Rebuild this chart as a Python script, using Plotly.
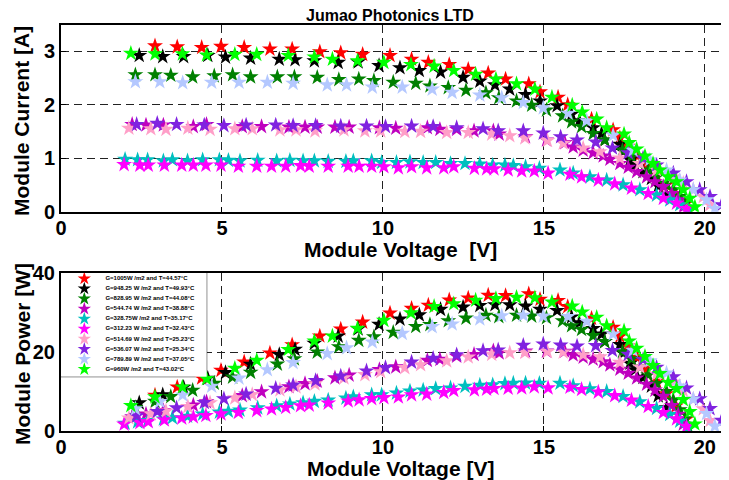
import plotly.graph_objects as go

title_text = "Jumao Photonics LTD"
x_title_top = "Module Voltage  [V]"
x_title_bottom = "Module Voltage [V]"
y_title_top = "Module Current [A]"
y_title_bottom = "Module Power [W]"

series_names = [
    "G=1005W /m2 and T=44.57°C",
    "G=948.25 W /m2 and T=49.93°C",
    "G=828.95 W /m2 and T=44.08°C",
    "G=544.74 W /m2 and T=38.88°C",
    "G=328.75W /m2 and T=35.17°C",
    "G=312.23 W /m2 and T=32.43°C",
    "G=514.69 W /m2 and T=25.23°C",
    "G=536.07 W /m2 and T=25.34°C",
    "G=789.89 W /m2 and T=37.05°C",
    "G=960W /m2 and T=43.02°C",
]
series_colors = ["#ff0000", "#000000", "#008000", "#bf00bf", "#00bfbf",
                 "#ff00ff", "#ff9fc8", "#8022e0", "#b4c8ff", "#00ff00"]

# 1005 W/m2
v_1005 = [2.92, 3.61, 4.37, 4.97, 5.69, 6.49, 7.18, 8.04, 8.69, 9.37, 10.22, 10.89, 11.41, 12.06, 12.65, 13.27, 13.81,
          14.53, 14.88, 15.44, 15.74, 16.48, 17.15, 17.36, 17.6, 17.9, 18.2, 18.5, 18.8, 19.1, 19.4]
i_1005 = [3.10, 3.08, 3.07, 3.09, 3.07, 3.04, 3.04, 2.99, 2.97, 2.94, 2.92, 2.85, 2.79, 2.75, 2.66, 2.59, 2.48,
          2.39, 2.24, 2.14, 2.00, 1.73, 1.53, 1.38, 1.22, 1.04, 0.86, 0.68, 0.50, 0.33, 0.15]
# 948.25 W/m2
v_948 = [2.43, 3.16, 3.81, 4.56, 5.11, 5.89, 6.78, 7.27, 7.87, 8.61, 9.23, 9.88, 10.53, 11.13, 11.79, 12.49, 13.01,
         13.48, 13.94, 14.43, 14.88, 15.41, 15.86, 16.10, 16.53, 16.79, 16.89, 17.36, 17.46, 17.67, 17.83, 18.08,
         18.34, 18.55, 18.81]
i_948 = [2.92, 2.90, 2.90, 2.92, 2.89, 2.87, 2.85, 2.84, 2.82, 2.79, 2.80, 2.73, 2.69, 2.64, 2.61, 2.51, 2.44,
         2.37, 2.29, 2.19, 2.07, 1.98, 1.82, 1.70, 1.57, 1.46, 1.34, 1.26, 1.13, 0.97, 0.87, 0.75,
         0.62, 0.48, 0.31]
# 828.95 W/m2
v_828 = [2.31, 2.92, 3.41, 4.09, 4.76, 5.33, 5.89, 6.72, 7.25, 7.96, 8.63, 9.25, 9.72, 10.32, 11.02, 11.46, 12.03,
         12.58, 13.20, 13.60, 14.15, 14.62, 15.08, 15.58, 15.86, 16.17, 16.53, 16.89, 17.44, 17.72, 17.98, 18.24,
         18.50, 18.81, 19.02, 19.22, 19.38, 19.48]
i_828 = [2.56, 2.56, 2.55, 2.52, 2.54, 2.56, 2.52, 2.52, 2.52, 2.51, 2.47, 2.48, 2.45, 2.42, 2.40, 2.35, 2.32,
         2.27, 2.22, 2.13, 2.07, 1.99, 1.90, 1.79, 1.68, 1.59, 1.46, 1.34, 1.15, 1.03, 0.90, 0.78,
         0.65, 0.53, 0.41, 0.28, 0.16, 0.06]
# 544.74 W/m2
v_544 = [2.21, 2.64, 3.18, 4.11, 4.52, 5.63, 6.23, 7.08, 7.58, 7.96, 8.51, 8.95, 9.89, 10.40, 11.38, 11.77, 12.29,
         12.83, 13.43, 13.61, 14.43, 15.08, 15.65, 15.91, 16.22, 16.53, 16.84, 17.05, 17.36, 17.62, 17.88, 18.19,
         18.45, 18.71, 18.97, 19.17, 19.33]
i_544 = [1.63, 1.62, 1.62, 1.59, 1.63, 1.59, 1.59, 1.58, 1.58, 1.58, 1.58, 1.58, 1.57, 1.56, 1.57, 1.54, 1.54,
         1.51, 1.51, 1.45, 1.40, 1.34, 1.29, 1.21, 1.15, 1.10, 1.04, 0.98, 0.90, 0.83, 0.75, 0.65,
         0.56, 0.47, 0.34, 0.22, 0.09]
# 328.75 W/m2
v_328 = [1.99, 2.38, 2.69, 3.18, 3.46, 3.93, 4.40, 4.92, 5.20, 5.56, 6.11, 6.70, 7.11, 7.52, 7.87, 8.30, 8.85,
         9.08, 9.65, 9.96, 10.42, 10.84, 11.25, 11.64, 12.10, 12.55, 13.01, 13.41, 13.79, 14.05, 14.43, 14.86,
         15.50, 15.91, 16.43, 16.95, 17.46, 17.98, 18.50, 18.91, 19.22, 19.48]
i_328 = [0.98, 0.97, 0.97, 0.95, 0.97, 0.95, 0.97, 0.97, 0.96, 0.95, 0.96, 0.95, 0.96, 0.95, 0.95, 0.94, 0.94,
         0.95, 0.95, 0.92, 0.92, 0.93, 0.92, 0.92, 0.90, 0.90, 0.89, 0.87, 0.87, 0.86, 0.84, 0.81,
         0.78, 0.72, 0.65, 0.59, 0.50, 0.41, 0.31, 0.22, 0.13, 0.03]
# 312.23 W/m2
v_312 = [1.96, 2.45, 2.71, 3.21, 3.75, 4.11, 4.50, 4.97, 5.51, 6.08, 6.54, 6.98, 7.44, 7.71, 8.30, 8.92, 9.26,
         9.65, 10.03, 10.48, 10.89, 11.36, 11.89, 12.20, 12.84, 13.22, 13.45, 13.89, 14.31, 14.70, 15.13, 15.81,
         16.17, 16.69, 17.20, 17.72, 18.24, 18.71, 19.12, 19.43]
i_312 = [0.88, 0.87, 0.87, 0.87, 0.87, 0.87, 0.87, 0.87, 0.85, 0.85, 0.85, 0.85, 0.86, 0.85, 0.85, 0.85, 0.85,
         0.85, 0.84, 0.82, 0.84, 0.82, 0.82, 0.84, 0.81, 0.80, 0.80, 0.78, 0.76, 0.76, 0.72, 0.70,
         0.65, 0.59, 0.52, 0.44, 0.34, 0.25, 0.16, 0.06]
# 514.69 W/m2
v_514 = [2.11, 2.79, 3.26, 3.94, 4.63, 5.40, 5.94, 6.80, 7.30, 7.89, 8.79, 9.44, 9.93, 10.68, 11.17, 11.98, 12.65,
         13.38, 13.94, 14.41, 15.11, 15.60, 16.22, 16.74, 17.36, 17.98, 18.50, 19.02, 19.33, 19.64, 19.95, 20.16]
i_514 = [1.56, 1.55, 1.54, 1.56, 1.54, 1.55, 1.55, 1.53, 1.53, 1.51, 1.53, 1.51, 1.51, 1.50, 1.50, 1.48, 1.48,
         1.45, 1.42, 1.38, 1.33, 1.28, 1.19, 1.12, 1.00, 0.90, 0.78, 0.65, 0.53, 0.41, 0.28, 0.13]
# 536.07 W/m2
v_536 = [2.35, 2.99, 3.59, 4.45, 5.06, 5.75, 6.67, 7.21, 7.91, 8.69, 9.49, 10.08, 10.89, 11.56, 12.29, 13.11, 13.58,
         14.36, 14.98, 15.52, 16.03, 16.61, 17.13, 17.62, 18.08, 18.50, 19.02, 19.43, 19.84, 20.16, 20.52, 20.71]
i_536 = [1.63, 1.65, 1.63, 1.62, 1.61, 1.62, 1.62, 1.61, 1.61, 1.60, 1.60, 1.59, 1.60, 1.59, 1.57, 1.55, 1.51,
         1.51, 1.47, 1.40, 1.34, 1.30, 1.19, 1.10, 1.00, 0.87, 0.72, 0.56, 0.41, 0.28, 0.13, 0.04]
# 789.89 W/m2
v_789 = [2.31, 3.07, 3.78, 4.68, 5.53, 6.41, 7.21, 8.27, 8.87, 9.67, 10.60, 11.53, 12.15, 13.01, 13.69, 14.36, 14.98,
         15.75, 16.33, 17.15, 17.77, 18.29, 18.81, 19.22, 19.64, 20.05, 20.31]
i_789 = [2.43, 2.43, 2.41, 2.42, 2.42, 2.42, 2.40, 2.37, 2.37, 2.33, 2.33, 2.29, 2.23, 2.18, 2.13, 2.04, 1.94,
         1.84, 1.70, 1.43, 1.15, 0.97, 0.78, 0.59, 0.41, 0.22, 0.06]
# 960 W/m2
v_960 = [2.17, 2.92, 3.77, 4.52, 5.40, 6.08, 7.06, 7.87, 8.43, 9.21, 10.03, 10.87, 11.59, 12.20, 12.88, 13.51, 14.15,
         14.72, 15.25, 15.88, 16.19, 16.64, 16.95, 17.49, 17.65, 17.88, 18.14, 18.39, 18.60, 18.86, 19.12, 19.33,
         19.53, 19.69]
i_960 = [2.96, 2.95, 2.95, 2.93, 2.94, 2.94, 2.92, 2.89, 2.85, 2.82, 2.79, 2.75, 2.72, 2.64, 2.57, 2.48, 2.39,
         2.29, 2.14, 1.99, 1.86, 1.73, 1.57, 1.45, 1.29, 1.17, 1.04, 0.90, 0.78, 0.65, 0.56, 0.41,
         0.25, 0.09]

voltages = [v_1005, v_948, v_828, v_544, v_328, v_312, v_514, v_536, v_789, v_960]
currents = [i_1005, i_948, i_828, i_544, i_328, i_312, i_514, i_536, i_789, i_960]

x_ticks = [0, 5, 10, 15, 20]
y_ticks_top = [0, 1, 2, 3]
y_ticks_bottom = [0, 20, 40]

FONT = "Liberation Sans, Arial, sans-serif"
STAR = 12

# ---- layout geometry (screen pixels; the page body adds an 8px offset) ----
W, H, OFF = 729, 480, 8
PL, PR = 61, 729                 # plot area left / right on screen
TOP1, BOT1 = 24.5, 211.7         # upper axes top / bottom on screen
TOP2, BOT2 = 273.0, 431.0        # lower axes
LEG_R, LEG_B = 206.7, 376.7      # legend box right / bottom


def py(sy):
    """screen y -> paper fraction"""
    return 1 - (sy - OFF) / H


def px(sx):
    """screen x -> paper fraction (paper spans plot area)"""
    return (sx - PL) / (PR - PL)


fig = go.Figure()
for name, col, v, i in zip(series_names, series_colors, voltages, currents):
    p = [vv * ii for vv, ii in zip(v, i)]
    fig.add_trace(go.Scatter(x=v, y=i, mode="markers", name=name, showlegend=False,
                             marker=dict(symbol="star", size=STAR, color=col, line=dict(width=0)),
                             xaxis="x", yaxis="y"))
    fig.add_trace(go.Scatter(x=v, y=p, mode="markers", name=name, showlegend=False,
                             marker=dict(symbol="star", size=STAR, color=col, line=dict(width=0)),
                             xaxis="x2", yaxis="y2"))

# custom legend drawn on its own small axes
idx = list(range(len(series_names)))
fig.add_trace(go.Scatter(x=[0.16] * len(idx), y=idx, mode="markers", showlegend=False, hoverinfo="skip",
                         marker=dict(symbol="star", size=10, color=series_colors, line=dict(width=0)),
                         xaxis="x3", yaxis="y3"))
fig.add_trace(go.Scatter(x=[0.305] * len(idx), y=idx, mode="text", text=series_names,
                         textposition="middle right", showlegend=False, hoverinfo="skip",
                         textfont=dict(family=FONT, size=6, color="black", weight="bold"),
                         xaxis="x3", yaxis="y3"))
fig.add_shape(type="rect", xref="x3 domain", yref="y3 domain", x0=0, x1=1, y0=0, y1=1,
              line=dict(color="black", width=1), fillcolor="white", layer="below")

axis_common = dict(
    automargin=False,
    showline=True, linecolor="black", linewidth=2,
    ticks="inside", ticklen=5, tickcolor="black", tickwidth=1,
    showgrid=True, gridcolor="#222222", gridwidth=1, griddash="8px,5px",
    zeroline=False,
    tickfont=dict(family=FONT, size=20, color="black", weight="bold"),
)

title_font_x = dict(family=FONT, size=21, color="black", weight="bold")
title_font_y = dict(family=FONT, size=21, color="black", weight="bold")

x_range = [0, 20.75]
fig.update_layout(
    width=W, height=H,
    margin=dict(l=PL - OFF, r=W - (PR - OFF), t=0, b=0, autoexpand=False),
    paper_bgcolor="white", plot_bgcolor="white",
    xaxis=dict(domain=[0, 1], range=x_range, anchor="y", tickvals=x_ticks, mirror=True,
               ticklabelstandoff=-3, **axis_common),
    yaxis=dict(domain=[py(BOT1), py(TOP1)], range=[0, 3.5], anchor="x", tickvals=y_ticks_top, **axis_common),
    xaxis2=dict(domain=[0, 1], range=x_range, anchor="y2", tickvals=x_ticks, mirror=True,
                ticklabelstandoff=-3, **axis_common),
    yaxis2=dict(domain=[py(BOT2), py(TOP2)], range=[0, 40], anchor="x2", tickvals=y_ticks_bottom,
                **axis_common),
    xaxis3=dict(domain=[0, px(LEG_R)], range=[0, 1], anchor="y3", visible=False, fixedrange=True),
    yaxis3=dict(domain=[py(LEG_B), py(TOP2)], range=[9.742, -0.555], anchor="x3", visible=False,
                fixedrange=True),
    annotations=[
        dict(text=title_text, xref="paper", yref="paper", x=px(390), y=1.0, yshift=3,
             xanchor="center", yanchor="top", showarrow=False,
             font=dict(family=FONT, size=16, color="black", weight="bold")),
        dict(text=x_title_top, xref="paper", yref="paper", x=px(400), y=py(249),
             xanchor="center", yanchor="middle", showarrow=False, font=title_font_x),
        dict(text=x_title_bottom, xref="paper", yref="paper", x=px(400), y=py(468),
             xanchor="center", yanchor="middle", showarrow=False, font=title_font_x),
        dict(text=y_title_top, xref="paper", yref="paper", x=px(22), y=py(121), textangle=-90,
             xanchor="center", yanchor="middle", showarrow=False, font=title_font_y),
        dict(text=y_title_bottom, xref="paper", yref="paper", x=px(22), y=py(354), textangle=-90,
             xanchor="center", yanchor="middle", showarrow=False, font=title_font_y),
    ],
    showlegend=False,
)

fig.write_html("out.html")
